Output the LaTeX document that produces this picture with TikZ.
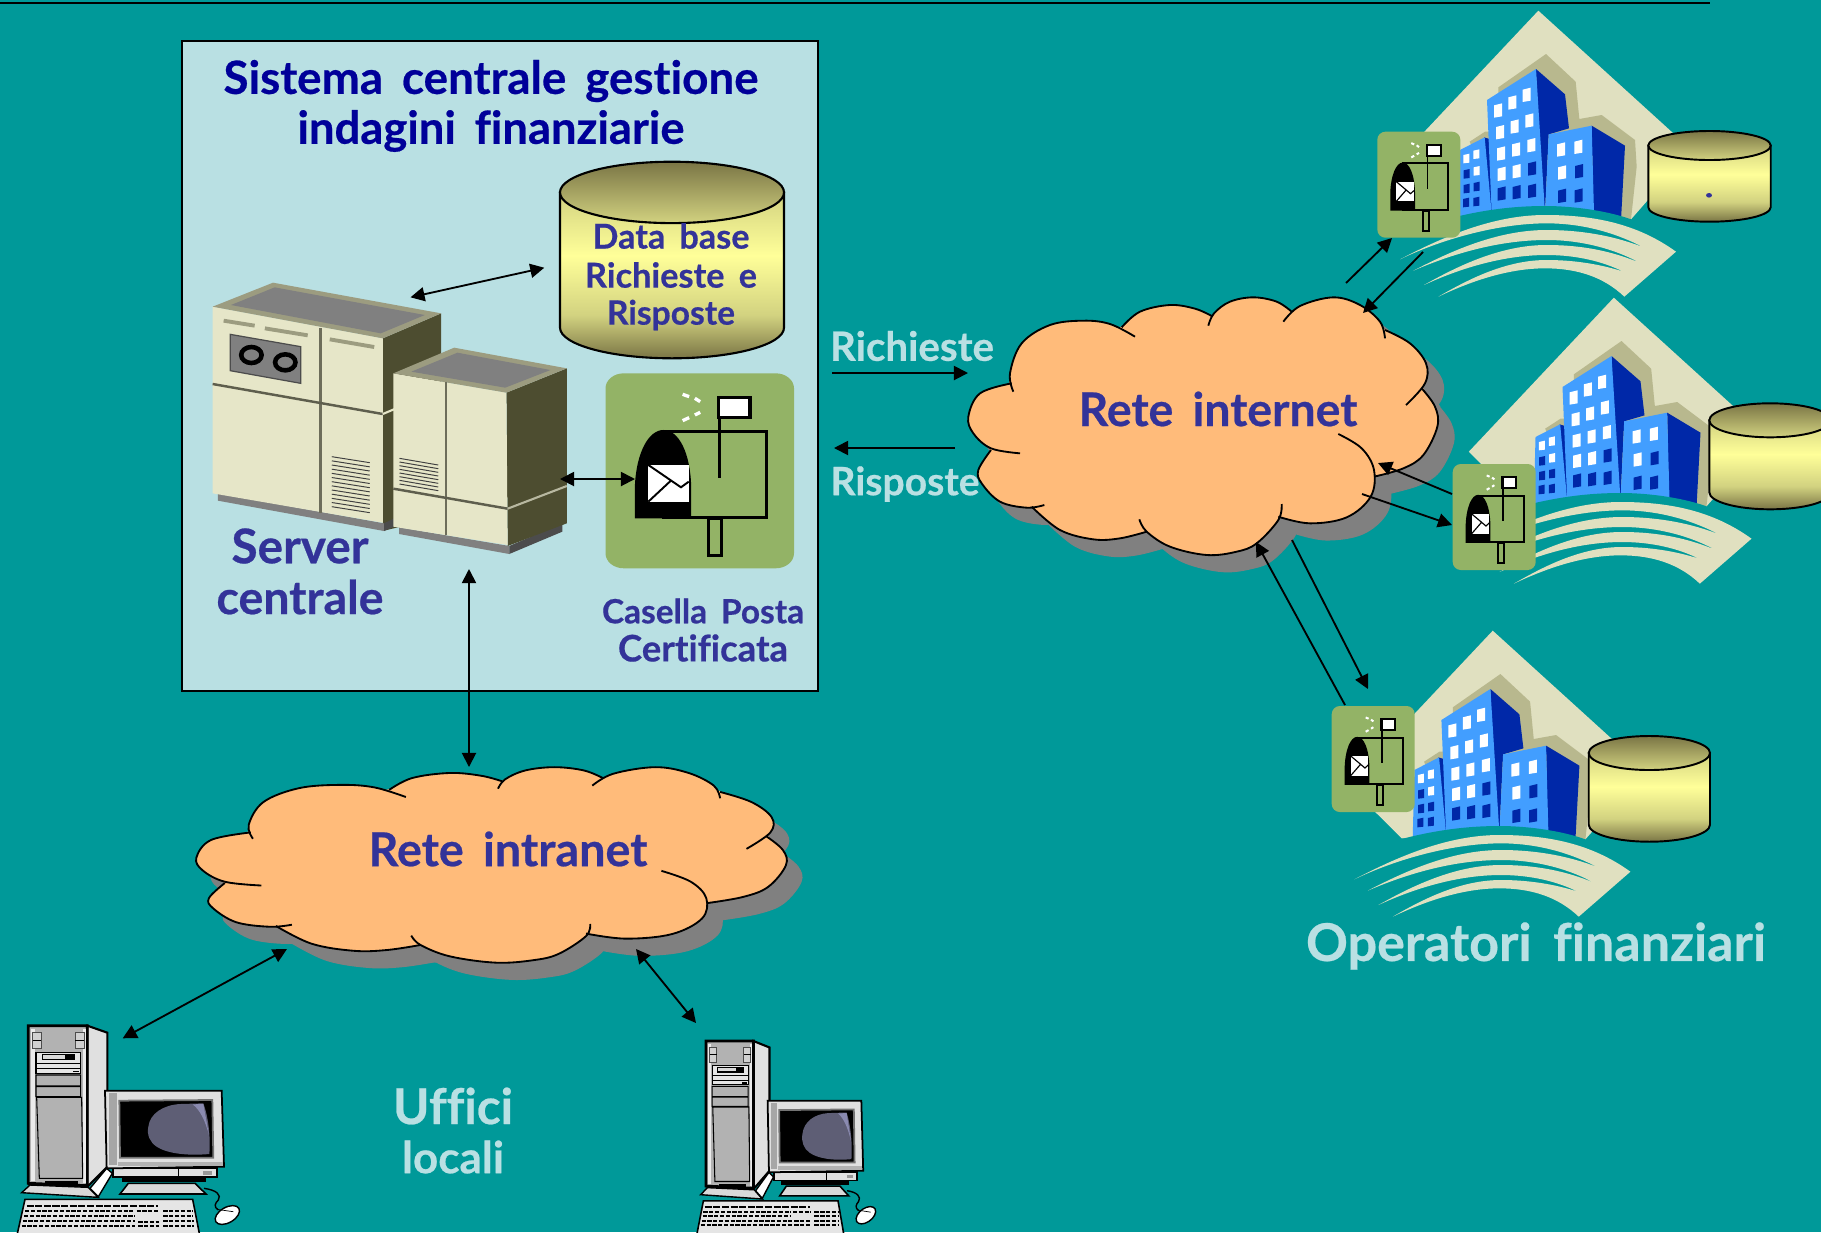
\documentclass[tikz,border=0pt]{standalone}
\usepackage{fontspec}
\setmainfont{Lato}[Ligatures=NoCommon,WordSpace=1.7,BoldFeatures={FakeBold=0.5}]
\usetikzlibrary{arrows.meta}
\definecolor{bgteal}{HTML}{009999}
\definecolor{paneblue}{HTML}{B9E0E3}
\definecolor{navy}{HTML}{000099}
\definecolor{ink}{HTML}{333399}
\definecolor{cloudfill}{HTML}{FFBB7A}
\definecolor{shadowgrey}{HTML}{808080}
\definecolor{boxgreen}{HTML}{93B366}
\definecolor{beige}{HTML}{E0E0C0}
\definecolor{khaki}{HTML}{B8B88E}
\definecolor{bldglight}{HTML}{429EFF}
\definecolor{bldgdark}{HTML}{0028A8}
\definecolor{cylmid}{HTML}{FFFF99}
\definecolor{cyldark}{HTML}{7A7545}
\definecolor{cylsoft}{HTML}{D2D280}
\definecolor{cream}{HTML}{E6E6C8}
\definecolor{olive}{HTML}{4D4D30}
\definecolor{rim}{HTML}{9C9C80}
\definecolor{crt}{HTML}{5E5E75}
\definecolor{crtlight}{HTML}{8A8AB0}
\pgfdeclareverticalshading{cylbody}{100bp}{color(0bp)=(cyldark); color(25bp)=(cyldark); color(38bp)=(cylsoft); color(56bp)=(cylmid); color(75bp)=(cylsoft); color(100bp)=(cylsoft)}
\newdimen\pxu \pxu=0.02cm
\newcommand{\fit}[2]{\resizebox{#1\pxu}{!}{\bfseries #2}}
\tikzset{
  x=0.02cm,y=-0.02cm,
  txt/.style={inner sep=0pt,font=\fontsize{24}{28}\selectfont},
  twoway/.style={line width=1.05pt,{Triangle[length=8pt,width=8pt]}-{Triangle[length=8pt,width=8pt]}},
  oneway/.style={line width=1.05pt,-{Triangle[length=8pt,width=8pt]}},
}
% ---------- mailbox ----------
\newcommand{\mailbox}[5]{%
\begin{scope}[shift={(#1,#2)},xscale=#3,yscale=#4]
  \fill[boxgreen] (45,0) -- (417,0) to[out=0,in=90] (462,45) -- (462,540) to[out=-90,in=0] (417,585) -- (45,585) to[out=180,in=-90] (0,540) -- (0,45) to[out=90,in=180] cycle;
  \draw[line width=#5*1.9pt,fill=boxgreen] (142,175) rectangle (395,432);
  \fill[black] (72,435) -- (72,340) .. controls (75,240) and (105,170) .. (142,170) .. controls (180,170) and (208,240) .. (210,340) -- (210,435) -- cycle;
  \draw[line width=#5*1.9pt] (252,435) rectangle (285,547);
  \draw[line width=#5*1.7pt] (279,130) -- (279,315);
  \draw[line width=#5*1.9pt,fill=white] (277,73) rectangle (354,133);
  \fill[white] (105,275) rectangle (204,385);
  \draw[line width=#5*1.1pt] (105,275) -- (185,342) -- (204,325) (105,385) -- (162,320);
  \draw[white,line width=#5*1.9pt] (189,63)--(205,70) (219,75)--(232,85) (189,142)--(205,133) (219,125)--(232,117);
\end{scope}}
% ---------- database ----------
\newcommand{\cylinder}[6]{% left right top bottom ry linewidth
  \pgfmathsetmacro{\cyc}{(#1+#2)/2}\pgfmathsetmacro{\cyrx}{(#2-#1)/2}
  \path[shading=cylbody,shading angle=0,draw=black,line width=#6]
    (#1,#3+#5) -- (#1,#4-#5) arc[start angle=180,end angle=360,x radius=\cyrx,y radius=-#5] -- (#2,#3+#5) -- cycle;
  \path[top color=cyldark,bottom color=cylsoft,draw=black,line width=#6]
    (\cyc,#3+#5) ellipse[x radius=\cyrx,y radius=#5];
}
% ---------- office block ----------
\newcommand{\bldgwin}[3]{\fill[#3] (#1-12,#2-16) -- (#1+12,#2-22) -- (#1+12,#2+17) -- (#1-12,#2+21) -- cycle;}
\newcommand{\bldgsmall}[3]{\fill[#3] (#1-9,#2-11) -- (#1+9,#2-15) -- (#1+9,#2+12) -- (#1-9,#2+14) -- cycle;}
\newcommand{\complex}[2]{%
\begin{scope}[shift={(#1,#2)},scale=0.33333]
  \fill[beige] (715,32) -- (1175,450) -- (993,658) -- (442,655) -- (280,494) -- cycle;
  \fill[khaki] (509,425) -- (555,395) -- (595,395) -- (595,262) -- (738,162) -- (827,245) -- (838,357) -- (905,345) -- (1005,420) -- (1010,500) -- (993,658) -- (900,640) -- (600,640) -- cycle;
  % left block
  \fill[bldgdark] (552,412) -- (572,418) -- (578,640) -- (555,640) -- cycle;
  \fill[bldglight] (480,450) -- (554,412) -- (575,640) -- (475,650) -- cycle;
  % centre block
  \fill[bldgdark] (708,207) -- (795,283) -- (807,385) -- (746,403) -- (735,640) -- (720,640) -- cycle;
  \fill[bldglight] (561,300) -- (708,207) -- (735,640) -- (575,640) -- cycle;
  % right block
  \fill[bldgdark] (875,377) -- (975,437) -- (963,660) -- (880,640) -- cycle;
  \fill[bldglight] (746,403) -- (875,377) -- (882,640) -- (735,640) -- cycle;
  \foreach \wx/\wy in {594/332,637/308,680/285,600/397,644/380,688/362,603/461,648/449,694/436,605/522,650/514,783/449,835/441,786/518}
    {\bldgwin{\wx}{\wy}{white}}
  \foreach \wx/\wy in {696/506,605/581,650/577,696/573,837/514,786/588,836/587}
    {\bldgwin{\wx}{\wy}{bldgdark}}
  \foreach \wx/\wy in {499/476,529/463,530/513}
    {\bldgsmall{\wx}{\wy}{white}}
  \foreach \wx/\wy in {500/522,500/566,530/560,498/608,529/605}
    {\bldgsmall{\wx}{\wy}{bldgdark}}
  % ground cut
  \fill[bgteal] (430,660) .. controls (560,625) and (660,618) .. (735,618) .. controls (830,618) and (930,635) .. (993,658) -- (1020,720) -- (430,720) -- cycle;
  % swoosh
  \fill[beige] (1128,755) .. controls (1010,670) and (880,645) .. (735,645)
    .. controls (580,645) and (430,710) .. (300,778)
    .. controls (430,715) and (600,670) .. (740,670)
    .. controls (860,670) and (960,705) .. (1030,742)
    .. controls (950,710) and (850,690) .. (740,690)
    .. controls (590,690) and (450,755) .. (340,812)
    .. controls (460,760) and (600,720) .. (740,720)
    .. controls (850,720) and (950,750) .. (1018,788)
    .. controls (940,755) and (850,735) .. (740,735)
    .. controls (600,735) and (470,800) .. (372,855)
    .. controls (480,805) and (610,765) .. (740,765)
    .. controls (830,765) and (910,785) .. (970,815)
    .. controls (900,792) and (820,780) .. (740,780)
    .. controls (620,780) and (510,835) .. (415,890)
    .. controls (520,840) and (630,805) .. (735,805)
    .. controls (830,805) and (910,830) .. (973,890)
    -- cycle;
\end{scope}}
% ---------- cloud ----------
\newcommand{\cloudarcs}[1]{%
  \path[#1] plot[smooth,tension=.6] coordinates {(190,335)(180,280)(215,190)(300,135)(400,122)(480,132)(555,170)};
  \path[#1] plot[smooth,tension=.6] coordinates {(515,142)(570,95)(660,75)(735,86)(785,108)};
  \path[#1] plot[smooth,tension=.6] coordinates {(775,137)(792,100)(840,65)(910,52)(980,65)(1025,95)};
  \path[#1] plot[smooth,tension=.6] coordinates {(1000,125)(1050,78)(1150,52)(1230,75)(1290,125)(1305,175)};
  \path[#1] plot[smooth,tension=.6] coordinates {(1305,150)(1380,190)(1428,250)(1425,310)(1368,375)};
  \path[#1] plot[smooth,tension=.6] coordinates {(1415,325)(1455,380)(1462,440)(1420,525)(1360,565)(1272,590)};
  \path[#1] plot[smooth,tension=.6] coordinates {(1165,462)(1235,505)(1272,570)(1262,650)(1190,712)(1080,730)(985,710)};
  \path[#1] plot[smooth,tension=.6] coordinates {(995,672)(985,720)(920,790)(860,815)(770,825)(660,800)(590,755)(568,718)};
  \path[#1] plot[smooth,tension=.6] coordinates {(590,755)(510,775)(430,778)(330,750)(245,680)};
  \path[#1] plot[smooth,tension=.6] coordinates {(283,675)(230,683)(150,665)(95,610)(85,570)(123,510)};
  \path[#1] plot[smooth,tension=.6] coordinates {(210,520)(123,505)(70,460)(55,410)(90,340)(185,310)};
}
\newcommand{\cloudcore}[1]{\path[fill=#1,draw=#1,line width=1pt] (182,300)--(515,142)--(785,108)--(1025,95)--(1305,150)--(1420,330)--(1272,590)--(985,710)--(590,755)--(245,680)--(123,510)--cycle;}
\newcommand{\cloud}[6]{% shiftx shifty xs ys shadowdx shadowdy
\begin{scope}[shift={(#1,#2)},xscale=#3,yscale=#4]
  \begin{scope}[shift={(#5,#6)}]
    \cloudarcs{fill=shadowgrey,draw=shadowgrey,line width=.6pt}\cloudcore{shadowgrey}
  \end{scope}
  \cloudarcs{fill=cloudfill}\cloudcore{cloudfill}
  \cloudarcs{draw=black,line width=1.05pt}
\end{scope}}
% ---------- computer ----------
\newcommand{\computer}[4]{%
\begin{scope}[shift={(#1,#2)},xscale=#3,yscale=#4]
  \path[fill=black!12,draw=black,line width=1.2pt] (262,47)--(322,68)--(322,470)--(262,530)--cycle;
  \path[fill=black!30,draw=black,line width=1.6pt] (85,47)--(262,47)--(262,527)--(85,520)--cycle;
  \fill[black!8] (93,58) rectangle (105,512);
  \fill[black!8] (248,58) rectangle (258,520);
  \path[fill=black!18,draw=black!70,line width=.5pt] (98,68) rectangle (124,116) (226,68) rectangle (252,116);
  \draw[black,line width=.5pt] (98,92)--(124,92) (226,92)--(252,92);
  \path[fill=black!10,draw=black,line width=.6pt] (108,127) rectangle (242,190);
  \fill[black] (125,133) rectangle (225,151);
  \fill[black!15] (130,136) rectangle (195,146);
  \draw[black,line width=.6pt] (110,160)--(240,160) (110,175)--(240,175);
  \fill[black] (218,182) rectangle (238,187);
  \path[draw=black,line width=.6pt] (108,195) rectangle (242,228) (108,230) rectangle (242,260) (110,262) -- (245,262) -- (248,505) -- (118,505) -- cycle;
  \path[fill=black!15,draw=black,line width=.8pt] (65,548)--(90,525)--(265,532)--(295,562)--cycle;
  \fill[black] (135,512) rectangle (235,524);
  \path[fill=white,draw=black,line width=.8pt] (270,535)--(320,475)--(337,490)--(295,560)--cycle;
  % monitor
  \path[fill=black!12,draw=black,line width=1pt] (340,475) rectangle (650,502);
  \draw[black,line width=.6pt] (535,478)--(535,500); \fill[black!40] (610,483) rectangle (635,494);
  \fill[black] (365,503) rectangle (618,516);
  \path[fill=black!15,draw=black,line width=.9pt] (360,552)--(385,520)--(585,520)--(618,552)--cycle;
  \path[fill=black!12,draw=black,line width=1pt] (315,242)--(665,242)--(672,470)--(320,475)--cycle;
  \fill[black!35] (328,250) rectangle (350,465);
  \fill[black!30] (355,455) rectangle (668,468);
  \path[fill=black,draw=black!55,line width=1pt] (358,272)--(637,270)--(640,443)--(360,443)--cycle;
  \fill[crt] (445,350) .. controls (450,310) and (490,285) .. (540,282) -- (610,280) .. controls (625,320) and (632,380) .. (628,432) .. controls (560,438) and (500,430) .. (470,410) .. controls (450,397) and (440,375) .. (445,350) -- cycle;
  \fill[crtlight] (578,283) -- (610,282) -- (627,375) .. controls (615,330) and (600,300) .. (578,283) -- cycle;
  % keyboard
  \path[fill=black!10,draw=black,line width=.9pt] (75,568)--(578,568)--(600,680)--(50,680)--cycle;
  \draw[black,line width=1.1pt,dash pattern=on 4pt off .9pt] (80,588)--(475,588);
  \draw[black,line width=1.2pt,dash pattern=on 2.4pt off .9pt] (75,603)--(400,603) (72,618)--(403,618) (68,633)--(405,633) (65,648)--(405,648) (410,603)--(478,603) (490,603)--(578,603) (490,618)--(578,618) (490,633)--(582,633) (490,648)--(582,648) (415,635)--(478,635) (415,648)--(478,648);
  % mouse
  \draw[black,line width=.8pt] (612,535) .. controls (650,540) and (665,555) .. (655,570) .. controls (645,580) and (640,590) .. (655,600);
  \path[fill=white,draw=black,line width=.8pt,rotate around={30:(682,615)}] (682,615) ellipse[x radius=40,y radius=23];
  \draw[black,line width=.4pt] (650,598)--(700,605);
\end{scope}}
\begin{document}
\begin{tikzpicture}
\useasboundingbox (0,0) rectangle (1821,1232);
\clip (0,0) rectangle (1821,1232);
\fill[bgteal] (0,0) rectangle (1821,1232);
\draw[line width=1.5pt] (0,3) -- (1710,3);
% central pane
\path[fill=paneblue,draw=black,line width=1.1pt] (182,41) rectangle (818,691);
% server
\begin{scope}[shift={(180,150)},xscale=.408,yscale=.33333]
  \fill[olive] (497,565)--(640,490)--(640,1100)--(497,1143)--cycle;
  \fill[shadowgrey] (93,1030)--(500,1120)--(500,1143)--(93,1052)--cycle;
  \fill[black!70] (500,1120)--(525,1105)--(525,1130)--(500,1143)--cycle;
  \fill[cream] (80,470)--(497,565)--(497,1118)--(80,1030)--cycle;
  \fill[rim] (80,470)--(228,398)--(640,490)--(497,565)--cycle;
  \fill[shadowgrey] (125,465)--(232,412)--(600,495)--(492,550)--cycle;
  \draw[rim!70!black,line width=1.6pt] (345,535)--(345,1088);
  \draw[rim!60!black,line width=1.4pt] (80,702)--(497,792);
  \draw[cream,line width=1.2pt] (497,792)--(530,775);
  \draw[rim,line width=2.2pt] (107,512)--(183,527) (208,535)--(313,556) (367,568)--(476,591);
  \path[fill=shadowgrey,draw=black!70,line width=.7pt] (123,553)--(296,590)--(296,700)--(123,662)--cycle;
  \draw[line width=2.6pt] (175,615) ellipse[x radius=25,y radius=24] (258,637) ellipse[x radius=25,y radius=24];
  \foreach \k in {0,...,12} {\draw[black!75,line width=.55pt] (372,920+12.5*\k) -- (465,938+12.5*\k);}
  \fill[shadowgrey] (537,1132)--(807,1188)--(807,1212)--(537,1152)--cycle;
  \fill[black!70] (807,1188)--(937,1120)--(937,1145)--(807,1212)--cycle;
  \fill[olive] (800,728)--(948,655)--(948,1120)--(803,1188)--cycle;
  \fill[cream] (523,670)--(800,728)--(803,1185)--(523,1130)--cycle;
  \fill[rim] (523,670)--(672,593)--(948,655)--(800,728)--cycle;
  \fill[shadowgrey] (567,665)--(680,608)--(908,660)--(797,713)--cycle;
  \draw[rim!70!black,line width=1.6pt] (652,695)--(652,1155);
  \draw[rim!60!black,line width=1.4pt] (523,1016)--(803,1076);
  \draw[cream!80!black,line width=1.2pt] (803,1076)--(948,1008);
  \foreach \k in {0,...,7} {\draw[black!75,line width=.55pt] (538,925+11*\k) -- (633,945+11*\k);}
\end{scope}
% database
\cylinder{560}{784}{161.7}{358.3}{30.7}{1.2pt}
\coordinate (serverTop) at (410.5,297.3);
\coordinate (dbSide) at (544.3,267.7);
\coordinate (serverSide) at (560,479);
\coordinate (boxSide) at (635,479);
\coordinate (serverBottom) at (469,569);
\coordinate (intranetTop) at (469,767);
\mailbox{605.5}{373.3}{.408}{.33333}{1}
% clouds
\cloud{950}{280}{.33333}{.33333}{48}{50}
\cloud{173.3}{754}{.419}{.2529}{36}{66}
% offices
\complex{1300}{0}
\cylinder{1648.3}{1770.7}{131}{221.7}{14.5}{1.1pt}
\fill[ink] (1709,195.3) ellipse[x radius=3,y radius=2.3];
\mailbox{1377.3}{131.7}{.1797}{.1812}{.6}
\complex{1375.5}{287}
\cylinder{1709.3}{1831}{403.3}{509.3}{17}{1.1pt}
\mailbox{1452.7}{464}{.1797}{.1812}{.6}
\complex{1254.4}{620}
\cylinder{1588.7}{1710}{736}{841.7}{17}{1.1pt}
\mailbox{1331.7}{706}{.1797}{.1812}{.6}
% computers
\computer{0}{1010}{.33333}{.33333}
\computer{683.3}{1026.6}{.2677}{.3067}
% connector ends
\coordinate (richA) at (832,373); \coordinate (richB) at (968,373);
\coordinate (rispA) at (955,448); \coordinate (rispB) at (834,448);
\coordinate (o1a) at (1346,283); \coordinate (o1b) at (1392,238);
\coordinate (o1c) at (1423,252); \coordinate (o1d) at (1363,313);
\coordinate (o2a) at (1452,494); \coordinate (o2b) at (1378,463);
\coordinate (o2c) at (1362,494); \coordinate (o2d) at (1452,525);
\coordinate (o3a) at (1345,705); \coordinate (o3b) at (1256,542);
\coordinate (o3c) at (1292,540); \coordinate (o3d) at (1368,689);
\coordinate (pc1a) at (287,949); \coordinate (pc1b) at (122.7,1038.3);
\coordinate (pc2a) at (636,949); \coordinate (pc2b) at (696,1023);
\draw[twoway] (serverTop) -- (dbSide);
\draw[twoway] (serverSide) -- (boxSide);
\draw[twoway] (serverBottom) -- (intranetTop);
\draw[oneway] (richA) -- (richB);
\draw[oneway] (rispA) -- (rispB);
\draw[oneway] (o1a) -- (o1b);
\draw[oneway] (o1c) -- (o1d);
\draw[oneway] (o2a) -- (o2b);
\draw[oneway] (o2c) -- (o2d);
\draw[oneway] (o3a) -- (o3b);
\draw[oneway] (o3c) -- (o3d);
\draw[twoway] (pc1a) -- (pc1b);
\draw[twoway] (pc2a) -- (pc2b);
% texts
\node[txt,text=navy] (t1) at (491,81) {\fit{535}{Sistema centrale gestione}};
\node[txt,text=navy] (t2) at (491,131) {\fit{387}{indagini finanziarie}};
\node[txt,text=ink] (t3) at (671,236) {\fit{157}{Data base}};
\node[txt,text=ink] (t4) at (671,275) {\fit{172}{Richieste e}};
\node[txt,text=ink] (t5) at (671,315) {\fit{128}{Risposte}};
\node[txt,text=ink] (t6) at (300,546) {\fit{137}{Server}};
\node[txt,text=ink] (t7) at (300,597) {\fit{167}{centrale}};
\node[txt,text=ink] (t8) at (703,611) {\fit{202}{Casella Posta}};
\node[txt,text=ink] (t9) at (703,648) {\fit{170}{Certificata}};
\node[txt,text=paneblue] (t10) at (912,346) {\fit{164}{Richieste}};
\node[txt,text=paneblue] (t11) at (905,484) {\fit{149}{Risposte}};
\node[txt,text=ink] (t12) at (1218,409) {\fit{279}{Rete internet}};
\node[txt,text=ink] (t13) at (508,849) {\fit{279}{Rete intranet}};
\node[txt,text=paneblue] (t14) at (453,1106) {\fit{120}{Uffici}};
\node[txt,text=paneblue] (t15) at (453,1157) {\fit{102}{locali}};
\node[txt,text=paneblue] (t16) at (1536,946) {\fit{460}{Operatori finanziari}};
\end{tikzpicture}
\end{document}
